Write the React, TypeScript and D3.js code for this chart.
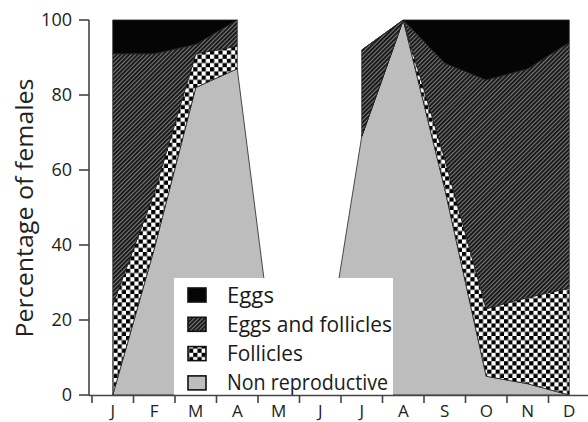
import React from 'react';
import * as d3 from 'd3';

// monthly percentages of females in each reproductive state
const months = ['J', 'F', 'M', 'A', 'M', 'J', 'J', 'A', 'S', 'O', 'N', 'D'];
const nonReproductive = [0, 39, 82, 87, 0, 0, 69, 100, 55, 5, 3, 0];
const follicles = [24, 15, 9, 6, null, null, 0, 0, 8, 18, 23, 28.5];
const eggsAndFollicles = [67, 37, 2.5, 7, null, null, 23, 0, 25.5, 61, 61, 65.5];
const eggs = [9, 9, 6.5, 0, null, null, 0, 0, 11.5, 16, 13, 6];
const yTicks = [0, 20, 40, 60, 80, 100];

const W = 588, H = 422;
const margin = { l: 92, r: -2, t: 20, b: 27 };
const axisX = 89;

const layers = [
  { name: 'Non reproductive', vals: nonReproductive, fill: '#bdbdbd' },
  { name: 'Follicles', vals: follicles, fill: 'url(#checker)' },
  { name: 'Eggs and follicles', vals: eggsAndFollicles, fill: 'url(#hatch)' },
  { name: 'Eggs', vals: eggs, fill: '#050505' },
];

type Pt = { i: number; y0: number; y1: number; ok: boolean };

function stackLayers() {
  const base = months.map(() => 0);
  return layers.map(l => {
    const pts: Pt[] = l.vals.map((v, i) => {
      const ok = v !== null;
      const y0 = base[i];
      const y1 = ok ? y0 + (v as number) : y0;
      if (ok) base[i] = y1;
      return { i, y0, y1, ok };
    });
    return { ...l, pts };
  });
}

export default function App() {
  const x = d3.scaleBand<number>()
    .domain(d3.range(months.length))
    .range([margin.l, W - margin.r])
    .padding(0);
  const y = d3.scaleLinear().domain([0, 100]).range([H - margin.b, margin.t]);
  const cx = (i: number) => (x(i) as number) + x.bandwidth() / 2;

  const area = d3.area<Pt>()
    .defined(d => d.ok)
    .x(d => cx(d.i))
    .y0(d => y(d.y0))
    .y1(d => y(d.y1));

  const stacked = stackLayers();
  const legendOrder = [...layers].reverse();
  const legendText: Record<string, number> = {
    'Eggs': 47, 'Eggs and follicles': 165, 'Follicles': 76, 'Non reproductive': 161,
  };
  const y0 = y(0);
  const font = '"Open Sans", "DejaVu Sans", sans-serif';

  return (
    <svg width={W} height={H} style={{ position: 'absolute', left: 0, top: 0 }} fontFamily={font}>
      <defs>
        <pattern id="hatch" width="3" height="3" patternUnits="userSpaceOnUse" patternTransform="rotate(45)">
          <rect width="3" height="3" fill="#7a7a7a" />
          <rect width="1.8" height="3" fill="#111" />
        </pattern>
        <pattern id="checker" width="8.4" height="8.4" patternUnits="userSpaceOnUse">
          <rect width="8.4" height="8.4" fill="#fff" />
          <rect width="4.2" height="4.2" fill="#000" />
          <rect x="4.2" y="4.2" width="4.2" height="4.2" fill="#000" />
        </pattern>
      </defs>

      {stacked.map(l => (
        <path key={l.name} d={area(l.pts) || ''} fill={l.fill} stroke="#222" strokeWidth={0.8} strokeLinejoin="round" />
      ))}

      {/* legend */}
      <rect x={174} y={278} width={219} height={y0 - 278} fill="#fff" />
      {legendOrder.map((l, k) => {
        const cy = 295 + k * 29.3;
        return (
          <g key={l.name}>
            <rect x={188} y={cy - 7} width={18} height={14} fill={l.fill} stroke="#111" strokeWidth={1.6} />
            <text x={227} y={cy + 7.5} fontSize={22} fill="#1a1a1a"
              textLength={legendText[l.name]} lengthAdjust="spacingAndGlyphs">{l.name}</text>
          </g>
        );
      })}

      {/* y axis */}
      <line x1={axisX} x2={axisX} y1={y(100)} y2={y0 + 0.5} stroke="#444" strokeWidth={1.6} />
      {yTicks.map(t => (
        <g key={t}>
          <line x1={79} x2={axisX} y1={y(t)} y2={y(t)} stroke="#444" strokeWidth={1.6} />
          <text x={72} y={y(t)} dy="0.36em" textAnchor="end" fontSize={18} fill="#222">{t}</text>
        </g>
      ))}
      <text transform={`translate(33,208) rotate(-90)`} textAnchor="middle" fontSize={23} fill="#222"
        textLength={259} lengthAdjust="spacingAndGlyphs">Percentage of females</text>

      {/* x axis */}
      <line x1={axisX} x2={W} y1={y0 + 0.5} y2={y0 + 0.5} stroke="#444" strokeWidth={1.6} />
      {months.map((m, i) => (
        <g key={i}>
          <line x1={x(i) as number} x2={x(i) as number} y1={y0} y2={y0 + 8} stroke="#444" strokeWidth={1.6} />
          <text x={cx(i)} y={417} textAnchor="middle" fontSize={17} fill="#222">{m}</text>
        </g>
      ))}
    </svg>
  );
}
